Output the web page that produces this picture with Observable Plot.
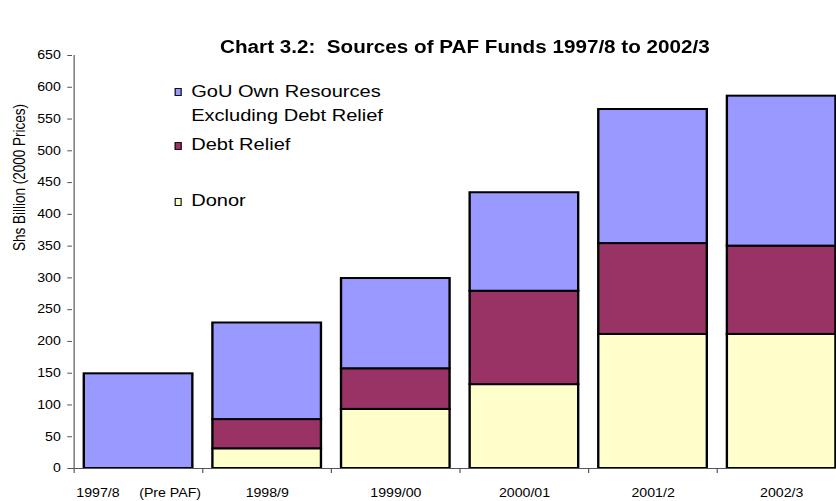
<!DOCTYPE html>
<html><head><meta charset="utf-8">
<script src="https://cdn.jsdelivr.net/npm/d3@7"></script>
<script src="https://cdn.jsdelivr.net/npm/@observablehq/plot@0.6"></script>
<style>
html,body{margin:0;padding:0;background:#fff;overflow:hidden;}
#wrap{position:relative;width:708px;height:501px;transform:scaleX(1.18);transform-origin:0 0;font-family:Arial,"Liberation Sans",sans-serif;color:#000;}
#title{position:absolute;left:84px;top:30px;width:620px;height:34px;text-align:center;font-weight:bold;font-size:17.5px;line-height:34px;white-space:nowrap;}
#chart{position:absolute;left:0;top:34px;}
.leg{position:absolute;left:162px;font-size:17px;line-height:19px;white-space:nowrap;}
.sw{position:absolute;left:147.5px;width:4.6px;height:6px;border:1.5px solid #111;}
</style></head>
<body>
<div id="wrap">
  <div id="chart"></div>
  <div id="title">Chart 3.2:&nbsp; Sources of PAF Funds 1997/8 to 2002/3</div>
  <div class="sw" style="top:88px;background:#9999FF"></div>
  <div class="leg" style="top:82px">GoU Own Resources</div>
  <div class="leg" style="top:106px">Excluding Debt Relief</div>
  <div class="sw" style="top:141.5px;background:#993366"></div>
  <div class="leg" style="top:135px">Debt Relief</div>
  <div class="sw" style="top:197.5px;background:#FFFFCC"></div>
  <div class="leg" style="top:191px">Donor</div>
</div>
<script>
const categories = ["1997/8     (Pre PAF)", "1998/9", "1999/00", "2000/01", "2001/2", "2002/3"];
const donor      = [0, 31, 93, 132, 211, 211];
const debtRelief = [0, 46, 64, 147, 143, 139];
const gouOwn     = [149, 152, 142, 155, 211, 236];
const seriesNames = ["Donor", "Debt Relief", "GoU Own Resources Excluding Debt Relief"];
const seriesColors = ["#FFFFCC", "#993366", "#9999FF"];
const yTicks = [0, 50, 100, 150, 200, 250, 300, 350, 400, 450, 500, 550, 600, 650];
const yLabel = "Shs Billion (2000 Prices)";

const seriesValues = [donor, debtRelief, gouOwn];
const data = categories.flatMap((c, i) =>
  seriesNames.map((s, k) => ({category: c, series: s, value: seriesValues[k][i]}))
).filter(d => d.value > 0);

const W = 708, H = 467, ML = 61, MR = -9;
const step = (W - MR - ML) / categories.length;

const chart = Plot.plot({
  width: W, height: H,
  marginLeft: ML, marginRight: MR, marginTop: 21, marginBottom: 33,
  style: {fontFamily: "Arial, 'Liberation Sans', sans-serif", fontSize: "12px", color: "#000", background: "#fff", overflow: "visible"},
  x: {domain: categories, paddingInner: 0.16, paddingOuter: 0.08, label: null},
  y: {domain: [0, 650], label: null},
  color: {domain: seriesNames, range: seriesColors},
  marks: [
    Plot.barY(data, {x: "category", y: "value", fill: "series", order: seriesNames, stroke: "#000", strokeWidth: 2}),
    Plot.ruleY([0], {stroke: "#555"}),
    Plot.ruleX([categories[0]], {dx: -step / 2, stroke: "#555"}),
    Plot.axisY({ticks: yTicks, tickSize: 4, tickPadding: 6, stroke: "#555", label: null}),
    Plot.text([yLabel], {frameAnchor: "left", rotate: -90, dx: -45, dy: -11, fontSize: 13.5, fill: "#000"}),
    Plot.axisX({ticks: categories, tickSize: 5, tickFormat: () => "", dx: -step / 2, stroke: "#555", label: null}),
    Plot.axisX({tickSize: 0, tickPadding: 20, label: null})
  ]
});
document.getElementById("chart").appendChild(chart);
</script>
</body></html>
